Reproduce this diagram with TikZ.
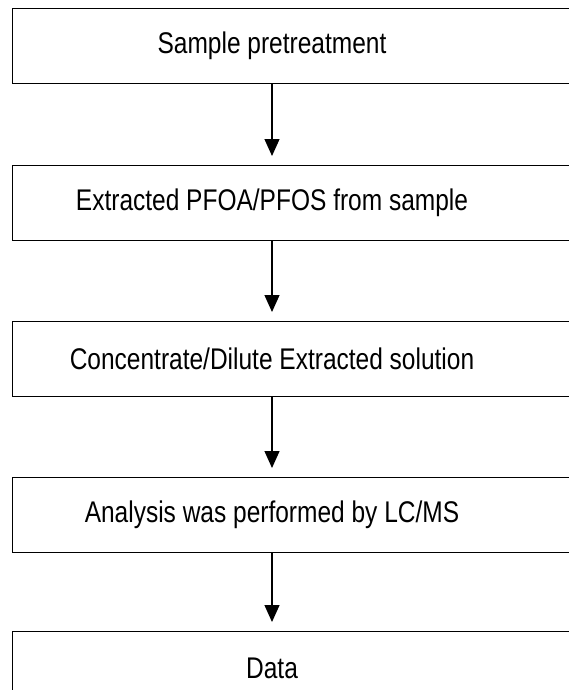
\documentclass[tikz,border=0pt]{standalone}
\usepackage{fontspec}
\setmainfont{Liberation Sans}
\usetikzlibrary{arrows.meta}

\newcommand{\tallstep}[1]{\scalebox{1}[1.22]{#1}}

\begin{document}
\begin{tikzpicture}[x=1pt, y=-1pt,
        stepbox/.style={rectangle, draw=black, line width=1.3pt, minimum width=600pt, minimum height=75pt, anchor=north west},
        steptext/.style={font=\fontsize{24.5}{28}\selectfont, inner sep=0pt},
        flowarrow/.style={-{Triangle[width=15pt,length=17pt]}, line width=1.3pt, shorten >=9pt},
    ]
    \useasboundingbox (0,0) rectangle (569,690);
    \clip (0,0) rectangle (569,690);
    %Nodes
    \node[stepbox]  (pretreatbox) at (12,8) {};
    \node[steptext] (pretreattext) at (272,45.5) {\tallstep{Sample pretreatment}};
    \node[stepbox]  (extractbox) at (12,165) {};
    \node[steptext] (extracttext) at (272,203) {\tallstep{Extracted PFOA/PFOS from sample}};
    \node[stepbox]  (concbox) at (12,321) {};
    \node[steptext] (conctext) at (272,359) {\tallstep{Concentrate/Dilute Extracted solution}};
    \node[stepbox]  (analysisbox) at (12,477) {};
    \node[steptext] (analysistext) at (272,515) {\tallstep{Analysis was performed by LC/MS}};
    \node[stepbox]  (databox) at (12,631) {};
    \node[steptext] (datatext) at (272,668.5) {\tallstep{Data}};
    %Lines
    \draw[flowarrow] (pretreatbox.south -| pretreattext) -- (extractbox.north -| pretreattext);
    \draw[flowarrow] (extractbox.south -| pretreattext) -- (concbox.north -| pretreattext);
    \draw[flowarrow] (concbox.south -| pretreattext) -- (analysisbox.north -| pretreattext);
    \draw[flowarrow] (analysisbox.south -| pretreattext) -- (databox.north -| pretreattext);
\end{tikzpicture}
\end{document}
